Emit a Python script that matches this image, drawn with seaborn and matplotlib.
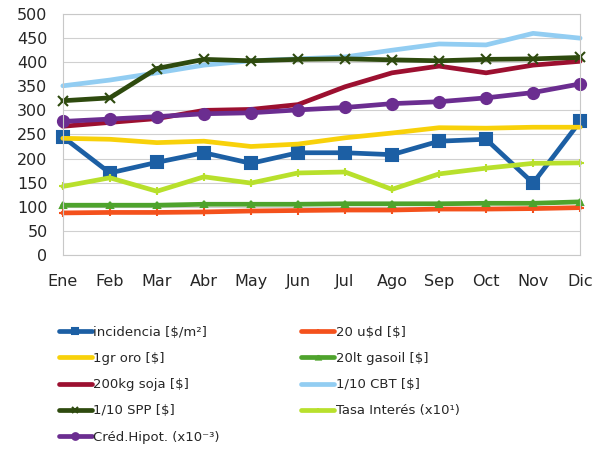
import pandas as pd
import seaborn as sns
import matplotlib.pyplot as plt

months = ["Ene", "Feb", "Mar", "Abr", "May", "Jun",
          "Jul", "Ago", "Sep", "Oct", "Nov", "Dic"]

incidencia = [245, 170, 192, 212, 190, 212, 212, 208, 236, 240, 149, 277]
usd_20 = [87, 88, 88, 89, 91, 92, 93, 93, 95, 95, 96, 98]
oro_1gr = [242, 240, 233, 236, 225, 230, 243, 253, 264, 263, 265, 265]
gasoil_20lt = [103, 103, 103, 105, 105, 105, 106, 106, 106, 107, 107, 110]
soja_200kg = [267, 275, 283, 300, 302, 312, 349, 378, 392, 378, 394, 402]
cbt = [351, 363, 378, 394, 403, 407, 411, 425, 438, 436, 460, 450]
spp = [320, 326, 387, 406, 403, 406, 407, 405, 403, 406, 407, 410]
tasa = [142, 160, 132, 162, 149, 170, 172, 136, 168, 180, 190, 191]
cred_hipot = [277, 282, 287, 293, 295, 301, 306, 314, 318, 326, 337, 355]

labels = ["incidencia [\\$/m\u00b2]", "20 u\\$d [\\$]", "1gr oro [\\$]", "20lt gasoil [\\$]",
          "200kg soja [\\$]", "1/10 CBT [\\$]", "1/10 SPP [\\$]",
          "Tasa Inter\u00e9s (x10\u00b9)", "Cr\u00e9d.Hipot. (x10\u207b\u00b3)"]
series = [incidencia, usd_20, oro_1gr, gasoil_20lt, soja_200kg, cbt, spp, tasa, cred_hipot]
colors = ["#1c5fa4", "#f4511c", "#f8d10a", "#4ea32c", "#9c1030",
          "#92cdf2", "#2e4a0e", "#b8e02c", "#6b2d90"]
markers = ["s", "+", None, "^", None, None, "x", "+", "o"]
msizes = [8, 6, 0, 5, 0, 0, 7, 6, 8]

df = pd.DataFrame({"month": months * len(labels),
                   "value": sum(series, []),
                   "serie": [l for l in labels for _ in months]})

sns.set_style("white")
plt.rcParams["font.family"] = ["DejaVu Sans"]

fig = plt.figure(figsize=(6.1, 4.55), dpi=100)
ax = fig.add_axes([0.103, 0.44, 0.848, 0.529])

for lab, col, mk, ms in zip(labels, colors, markers, msizes):
    sub = df[df.serie == lab]
    sns.lineplot(x="month", y="value", data=sub, ax=ax, color=col, lw=3.4,
                 marker=mk, markersize=ms, markeredgecolor=col, markeredgewidth=1.5,
                 label=lab, sort=False, clip_on=False)

ax.set_xlim(0, 11)
ax.set_ylim(0, 500)
ax.set_yticks(range(0, 501, 50))
ax.yaxis.grid(True, color="#d0d0d0", lw=0.8)
ax.set_axisbelow(True)
for s in ax.spines.values():
    s.set_color("#c8c8c8")
ax.tick_params(axis="x", length=3, color="#c8c8c8", labelsize=11.5, pad=11)
ax.tick_params(axis="y", length=0, labelsize=11.5, pad=11)
ax.set_xlabel("")
ax.set_ylabel("")

handles, labs = ax.get_legend_handles_labels()
ax.legend_.remove()
order = [0, 2, 4, 6, 8, 1, 3, 5, 7]
fig.legend([handles[i] for i in order], [labs[i] for i in order],
           loc="upper left", bbox_to_anchor=(0.077, 0.31), ncol=2,
           frameon=False, fontsize=9.5, handlelength=2.5, handletextpad=0.1,
           labelspacing=1.0, columnspacing=6.2, markerscale=0.6)

fig.savefig("out.png", dpi=100)
